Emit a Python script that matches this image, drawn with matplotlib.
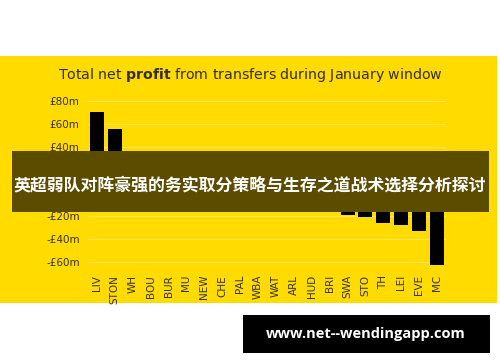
import matplotlib.pyplot as plt
from matplotlib.patches import Rectangle

teams = ['LIV', 'STON', 'WH', 'BOU', 'BUR', 'MU', 'NEW', 'CHE', 'PAL', 'WBA',
         'WAT', 'ARL', 'HUD', 'BRI', 'SWA', 'STO', 'TH', 'LEI', 'EVE', 'MC']
profit = [70, 56, 25, 15, 10, 6, 4, 2, -1, -2,
          -3, -12, -12, -15, -19, -21, -26, -28, -33, -63]
yticks = [80, 60, 40, 20, 0, -20, -40, -60]
ytick_labels = ['£80m', '£60m', '£40m', '£20m', '0', '-£20m', '-£40m', '-£60m']

W, H = 500, 362
YELLOW = '#ffdb00'


def px_rect(fig, x0, y0, x1, y1, color, z=0):
    # rectangle in pixel coords (top-left origin)
    fig.patches.append(Rectangle((x0 / W, 1 - y1 / H), (x1 - x0) / W, (y1 - y0) / H,
                                 transform=fig.transFigure, facecolor=color,
                                 edgecolor='none', zorder=z))


fig = plt.figure(figsize=(5, 3.62), dpi=100)
fig.patch.set_facecolor('white')
px_rect(fig, 0, 56, 497, 303, YELLOW, z=-1)

ax = fig.add_axes([88 / W, 0.2445, 358 / W, 0.4924])
ax.set_facecolor('none')
ax.bar(range(len(teams)), profit, width=0.78, color='black', zorder=3)
ax.set_xlim(-0.5, len(teams) - 0.5)
ax.set_ylim(-70, 85)
ax.set_yticks(yticks)
ax.set_yticklabels(ytick_labels)
ax.set_xticks(range(len(teams)))
ax.set_xticklabels(teams, rotation=90)
ax.tick_params(length=0, labelsize=7.5, labelcolor='#3a3320')
ax.tick_params(axis='y', pad=6)
ax.tick_params(axis='x', pad=1)
ax.grid(axis='y', color='#ffe45a', linewidth=0.8, zorder=0)
for s in ax.spines.values():
    s.set_visible(False)

plt.rcParams['mathtext.fontset'] = 'dejavusans'
fig.text(58 / W, 1 - 75 / H, r'Total net $\bf{profit}$ from transfers during January window',
         fontsize=10.2, color='#333020', va='center', ha='left')

# banner over the middle
px_rect(fig, 12, 151, 489, 212, '#5c4c00', z=5)
fig.text(250 / W, 1 - 185 / H, '英超弱队对阵豪强的务实取分策略与生存之道战术选择分析探讨',
         family=['Noto Sans CJK SC', 'DejaVu Sans'], fontweight='bold',
         fontsize=12.2, color='white', ha='center', va='center', zorder=6)

# site box
px_rect(fig, 243, 315, 490, 353, 'black', z=5)
fig.text(366 / W, 1 - 334 / H, 'www.net--wendingapp.com', family='Open Sans',
         fontweight='bold', fontsize=10.5, color='white', ha='center', va='center', zorder=6)

fig.savefig('out.png', dpi=100)
